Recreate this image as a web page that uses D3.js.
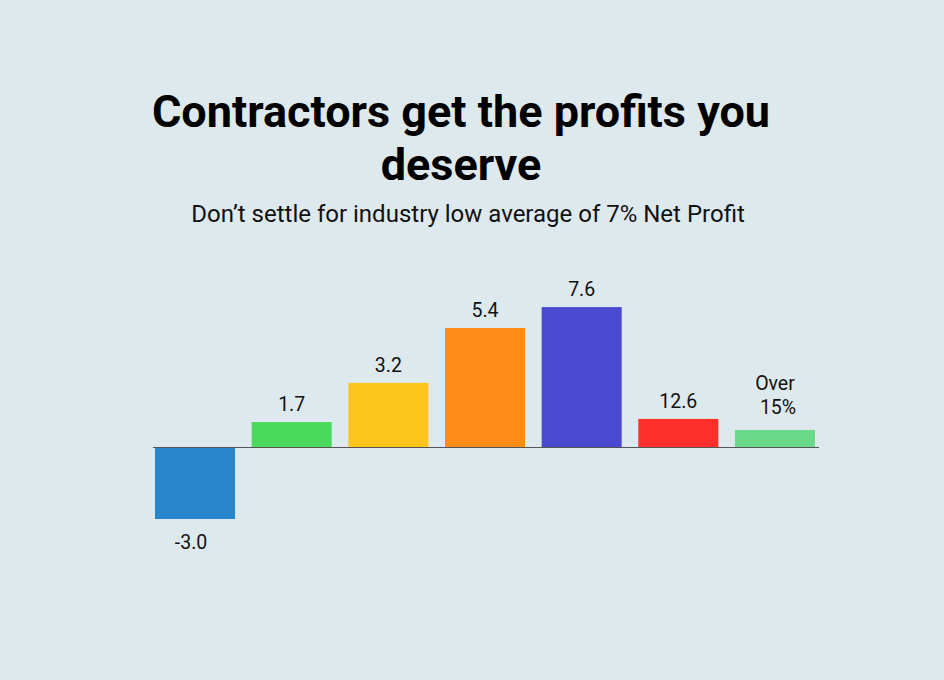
<!DOCTYPE html>
<html lang="en">
<head>
<meta charset="utf-8">
<title>Contractors get the profits you deserve</title>
<script src="https://cdn.jsdelivr.net/npm/d3@7"></script>
<style>
  html, body { margin: 0; padding: 0; background: #dee9ee; }
  svg { display: block; font-family: Roboto, "Noto Sans", sans-serif; }
  .title { font-weight: bold; font-size: 45px; fill: #000; }
  .subtitle { font-size: 24px; fill: #111; }
  .label { font-size: 19.5px; fill: #111; }
</style>
</head>
<body>
<script>
// categories and bar heights (heights as drawn), with the printed labels
var categories = ["c1", "c2", "c3", "c4", "c5", "c6", "c7"];
var values = [-3.0, 1.04, 2.67, 4.96, 5.83, 1.17, 0.71];
var labels = [["-3.0"], ["1.7"], ["3.2"], ["5.4"], ["7.6"], ["12.6"], ["Over", "15%"]];
var colors = ["#2786cc", "#4bd95c", "#fec61d", "#ff8c19", "#4a4ad0", "#ff302b", "#6ad98a"];

var w = 944, h = 680;

var svg = d3.select("body").append("svg")
  .attr("width", w)
  .attr("height", h);

svg.append("rect").attr("width", w).attr("height", h).attr("fill", "#dee9ee");

// title
svg.append("text").attr("class", "title")
  .attr("x", 461).attr("y", 127).attr("text-anchor", "middle")
  .text("Contractors get the profits you");
svg.append("text").attr("class", "title")
  .attr("x", 461).attr("y", 180).attr("text-anchor", "middle")
  .text("deserve");
svg.append("text").attr("class", "subtitle")
  .attr("x", 468).attr("y", 222).attr("text-anchor", "middle")
  .text("Don\u2019t settle for industry low average of 7% Net Profit");

var xScale = d3.scaleBand()
  .domain(categories)
  .range([155, 815])
  .paddingInner(0.172)
  .paddingOuter(0);

var yScale = d3.scaleLinear()
  .domain([-3, 6])
  .range([519, 303]);

svg.append("g")
  .selectAll("rect")
  .data(values)
  .enter()
  .append("rect")
  .attr("x", function(d, i) { return xScale(categories[i]); })
  .attr("y", function(d) { return yScale(Math.max(0, d)); })
  .attr("width", xScale.bandwidth())
  .attr("height", function(d) { return Math.abs(yScale(d) - yScale(0)); })
  .attr("fill", function(d, i) { return colors[i]; });

// zero line
svg.append("line")
  .attr("x1", 153).attr("x2", 819)
  .attr("y1", yScale(0) + 0.5).attr("y2", yScale(0) + 0.5)
  .attr("stroke", "#555").attr("stroke-width", 1);

// value labels
var lg = svg.append("g");
values.forEach(function(d, i) {
  var cx = xScale(categories[i]) + xScale.bandwidth() / 2;
  var lines = labels[i];
  var t = lg.append("text").attr("class", "label").attr("text-anchor", "middle");
  if (d < 0) {
    t.attr("x", cx - 4).attr("y", yScale(d) + 30).text(lines[0]);
  } else {
    var base = yScale(d) - 11 - (lines.length - 1) * 24;
    if (lines.length > 1) base = yScale(d) - 16 - (lines.length - 1) * 24;
    lines.forEach(function(s, j) {
      t.append("tspan")
        .attr("x", cx + (j > 0 ? 3 : 0))
        .attr("y", base + j * 24)
        .text(s);
    });
  }
});
</script>
</body>
</html>
